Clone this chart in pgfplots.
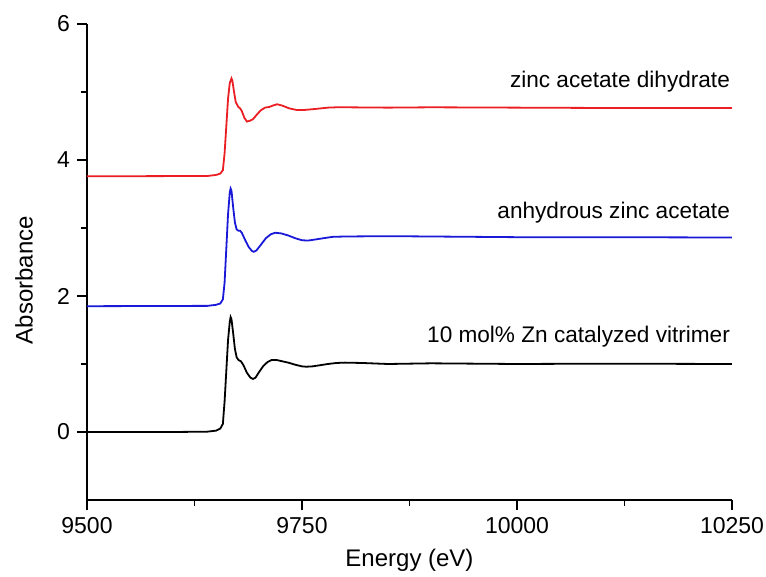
\documentclass[border=0pt]{standalone}
\usepackage{fontspec}
\setmainfont{Liberation Sans}
\usepackage{pgfplots}
\pgfplotsset{compat=1.18}
\definecolor{cred}{RGB}{235,30,35}
\definecolor{cblue}{RGB}{25,25,215}
\begin{document}
\begin{tikzpicture}
\path[use as bounding box] (-43.5pt,-38.5pt) rectangle (339.5pt,250pt);
\begin{axis}[
  scale only axis, width=322.5pt, height=238pt,
  xmin=9500, xmax=10250, ymin=-1, ymax=6,
  axis x line*=bottom, axis y line*=left,
  axis line style={line width=0.7pt},
  xtick={9500,9750,10000,10250}, minor xtick={9625,9875,10125},
  ytick={0,2,4,6}, minor ytick={1,3,5},
  scaled x ticks=false,
  tick align=outside,
  major tick length=5pt, minor tick length=3pt,
  every tick/.style={black, line width=0.7pt},
  /pgf/number format/assume math mode=true,
  /pgf/number format/1000 sep={},
  ticklabel style={font=\fontsize{11.5}{14}\selectfont},
  label style={font=\fontsize{12}{14}\selectfont},
  xlabel={Energy (eV)}, ylabel={Absorbance},
  xlabel style={at={(axis description cs:0.5,0)}, anchor=center, yshift=-30pt},
  ylabel style={at={(axis description cs:0,0.462)}, anchor=center, rotate=0, yshift=31.5pt},
  clip=false,
]
\addplot[black, line width=0.9pt] coordinates {
(9500,0) (9600,0.0) (9640,0.005) (9650,0.02) (9655,0.05) (9658,0.12) (9660,0.45)
(9662,0.9) (9664,1.35) (9666,1.62) (9667,1.69) (9668,1.66) (9670,1.45) (9672,1.22)
(9674,1.10) (9676,1.06) (9679,1.04) (9682,0.98) (9686,0.87) (9690,0.80) (9693,0.78)
(9696,0.80) (9700,0.88) (9705,0.97) (9710,1.03) (9715,1.06) (9720,1.06) (9727,1.04)
(9734,1.02) (9742,0.99) (9750,0.965) (9755,0.96) (9762,0.965) (9770,0.98) (9780,1.00)
(9790,1.015) (9800,1.02) (9820,1.015) (9850,1.0) (9900,1.01) (9950,1.005) (10000,1.0)
(10100,1.005) (10250,1.0)};
\addplot[cblue, line width=0.9pt] coordinates {
(9500,1.85) (9640,1.855) (9650,1.87) (9655,1.89) (9658,1.95) (9660,2.2) (9662,2.7)
(9664,3.2) (9666,3.52) (9667,3.58) (9668,3.55) (9670,3.3) (9672,3.08) (9674,2.98)
(9676,2.96) (9678,2.96) (9680,2.93) (9684,2.82) (9688,2.72) (9692,2.66) (9694,2.65)
(9697,2.67) (9702,2.75) (9708,2.85) (9714,2.91) (9719,2.93) (9726,2.92) (9734,2.89)
(9742,2.85) (9750,2.82) (9757,2.815) (9765,2.83) (9775,2.85) (9786,2.87) (9800,2.875)
(9850,2.88) (9900,2.875) (10000,2.865) (10100,2.865) (10250,2.86)};
\addplot[cred, line width=0.9pt] coordinates {
(9500,3.76) (9640,3.765) (9650,3.78) (9655,3.80) (9658,3.85) (9660,4.1) (9662,4.5)
(9664,4.9) (9666,5.13) (9668,5.20) (9669,5.17) (9671,5.0) (9673,4.85) (9676,4.78)
(9678,4.76) (9680,4.72) (9683,4.62) (9686,4.565) (9690,4.58) (9693,4.60) (9697,4.66)
(9702,4.73) (9707,4.77) (9712,4.78) (9716,4.80) (9721,4.82) (9727,4.80) (9735,4.76)
(9744,4.735) (9752,4.735) (9765,4.75) (9780,4.77) (9790,4.775) (9800,4.775)
(9850,4.77) (9900,4.775) (10000,4.77) (10100,4.765) (10250,4.765)};
\node[anchor=base east, inner sep=0pt, font=\fontsize{11.3}{14}\selectfont] at (axis cs:10248,5.06) {zinc acetate dihydrate};
\node[anchor=base east, inner sep=0pt, font=\fontsize{11.3}{14}\selectfont] at (axis cs:10248,3.14) {anhydrous zinc acetate};
\node[anchor=base east, inner sep=0pt, font=\fontsize{11.3}{14}\selectfont] at (axis cs:10248,1.31) {10 mol\% Zn catalyzed vitrimer};
\end{axis}
\end{tikzpicture}
\end{document}
